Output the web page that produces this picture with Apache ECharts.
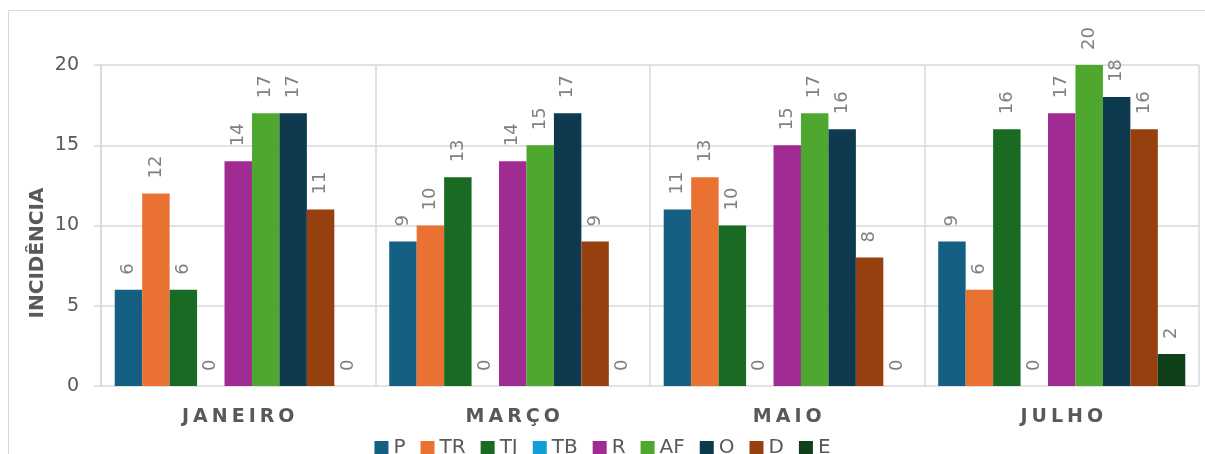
<!DOCTYPE html>
<html>
<head>
<meta charset="utf-8">
<script src="https://cdn.jsdelivr.net/npm/echarts@6/dist/echarts.min.js"></script>
<style>
html,body{margin:0;padding:0;background:#fff;}
#chart{width:1205px;height:454px;}
</style>
</head>
<body>
<div id="chart"></div>
<script>
const categories = ['JANEIRO', 'MARÇO', 'MAIO', 'JULHO'];
const seriesNames = ['P', 'TR', 'TJ', 'TB', 'R', 'AF', 'O', 'D', 'E'];
const P  = [6, 9, 11, 9];
const TR = [12, 10, 13, 6];
const TJ = [6, 13, 10, 16];
const TB = [0, 0, 0, 0];
const R  = [14, 14, 15, 17];
const AF = [17, 15, 17, 20];
const O  = [17, 17, 16, 18];
const D  = [11, 9, 8, 16];
const E  = [0, 0, 0, 2];
const yTicks = [0, 5, 10, 15, 20];
const yTitle = 'INCIDÊNCIA';

const seriesValues = [P, TR, TJ, TB, R, AF, O, D, E];
const colors = ['#156082', '#E97132', '#196B24', '#0F9ED5', '#A02B93', '#4EA72E', '#0E3A50', '#96400F', '#10401A'];
const FONT = 'DejaVu Sans';

const chart = echarts.init(document.getElementById('chart'));
chart.setOption({
  animation: false,
  color: colors,
  textStyle: { fontFamily: FONT },
  graphic: [
    { type: 'rect', shape: { x: 8.5, y: 10.5, width: 1400, height: 600 },
      style: { fill: 'none', stroke: '#d9d9d9', lineWidth: 1 }, silent: true },
    { type: 'text', x: 38, y: 253, rotation: Math.PI / 2,
      style: { text: yTitle, font: 'bold 20px "DejaVu Sans"', fill: '#595959',
               textAlign: 'center', textVerticalAlign: 'middle' } }
  ],
  grid: { left: 101, right: 6, top: 65, bottom: 68, containLabel: false },
  legend: {
    data: seriesNames,
    left: 'center',
    top: 433,
    itemWidth: 14,
    itemHeight: 14,
    itemGap: 15,
    icon: 'rect',
    textStyle: { fontFamily: FONT, fontSize: 20, color: '#595959' }
  },
  xAxis: {
    type: 'category',
    data: categories,
    axisLine: { show: false },
    axisTick: { show: false, interval: 0 },
    splitLine: { show: true, interval: 0, lineStyle: { color: '#d9d9d9', width: 1.5 } },
    axisLabel: {
      interval: 0,
      margin: 22,
      formatter: function (v) { return v.split('').map(function (c) { return '{s|' + c + '}'; }).join(''); },
      rich: { s: { fontFamily: FONT, fontSize: 19, fontWeight: 'bold', color: '#595959', padding: [0, 2, 0, 2] } }
    }
  },
  yAxis: {
    type: 'value',
    min: yTicks[0],
    max: yTicks[yTicks.length - 1],
    interval: yTicks[1] - yTicks[0],
    axisLine: { show: true, lineStyle: { color: '#d9d9d9', width: 1.5 } },
    axisTick: { show: true, length: 7, lineStyle: { color: '#d9d9d9', width: 1.5 } },
    splitLine: { show: true, lineStyle: { color: '#d9d9d9', width: 1.5 } },
    axisLabel: { margin: 22, fontFamily: FONT, fontSize: 19, color: '#595959' }
  },
  series: seriesNames.map(function (name, i) {
    return {
      name: name,
      type: 'bar',
      data: seriesValues[i],
      barGap: '0%',
      barCategoryGap: '10%',
      label: {
        show: true,
        position: 'top',
        rotate: 90,
        align: 'left',
        verticalAlign: 'middle',
        distance: 15,
        fontFamily: FONT,
        fontSize: 18,
        color: '#808080'
      }
    };
  })
});
</script>
</body>
</html>
